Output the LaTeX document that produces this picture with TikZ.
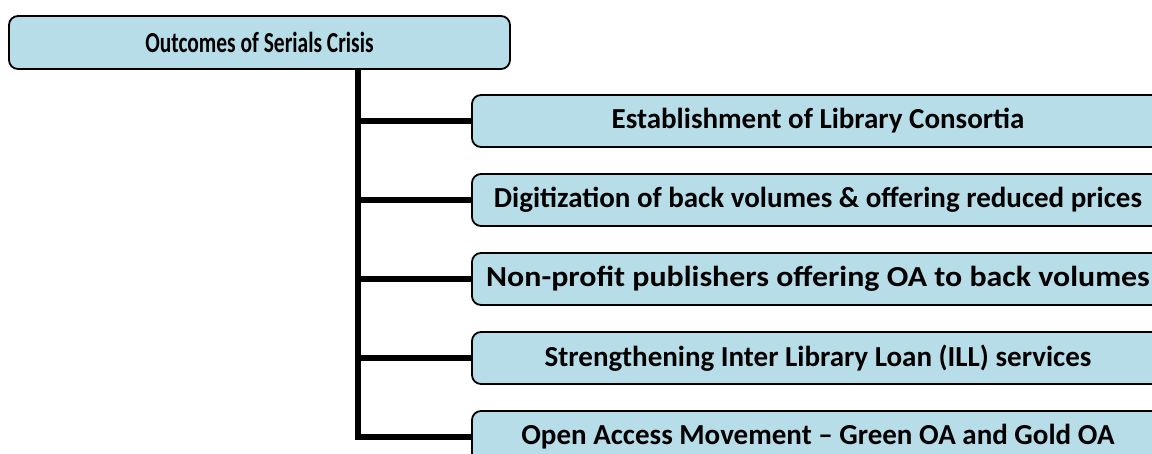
\documentclass[tikz,border=0pt]{standalone}
\usepackage{fontspec}
\usepackage{graphicx}
\setmainfont{Carlito}
\usetikzlibrary{positioning}

\definecolor{boxfill}{HTML}{B7DEE8}

\begin{document}
\begin{tikzpicture}[x=1pt,y=1pt,node distance=79pt,on grid,
			outcome/.style={rectangle, rounded corners=9pt, draw=black, line width=1.8pt, fill=boxfill, minimum height=52pt, inner sep=0pt, font=\fontsize{29}{32}\selectfont\bfseries},
			head/.style={outcome, minimum width=501pt, minimum height=53pt},
			item/.style={outcome, minimum width=692pt},
			branch/.style={line width=5.5pt, draw=black}
		]
		\useasboundingbox (0,0) rectangle (1152,454);
		\clip (0,0) rectangle (1152,454);
		
		\node[head] (crisis) at (259.5,411.5) {\scalebox{0.74}[1]{Outcomes of Serials Crisis}};
		
		\node[item] (o_1) [below right=78.5pt and 558.5pt of crisis] {Establishment of Library Consortia};
		\node[item] (o_2) [below=of o_1] {Digitization of back volumes \& offering reduced prices};
		\node[item] (o_3) [below=of o_2] {\scalebox{1.1}[1]{Non-profit publishers offering OA to back volumes}};
		\node[item] (o_4) [below=of o_3] {Strengthening Inter Library Loan (ILL) services};
		\node[item] (o_5) [below=of o_4] {Open Access Movement – Green OA and Gold OA};
		
		\coordinate (trunk) at (358,0);
		
		\draw[branch] (crisis.south -| trunk) |- (o_5.west);
		\foreach \i in {1,...,4}
			\draw[branch] (trunk |- o_\i.west) -- (o_\i.west);
	\end{tikzpicture}
\end{document}
